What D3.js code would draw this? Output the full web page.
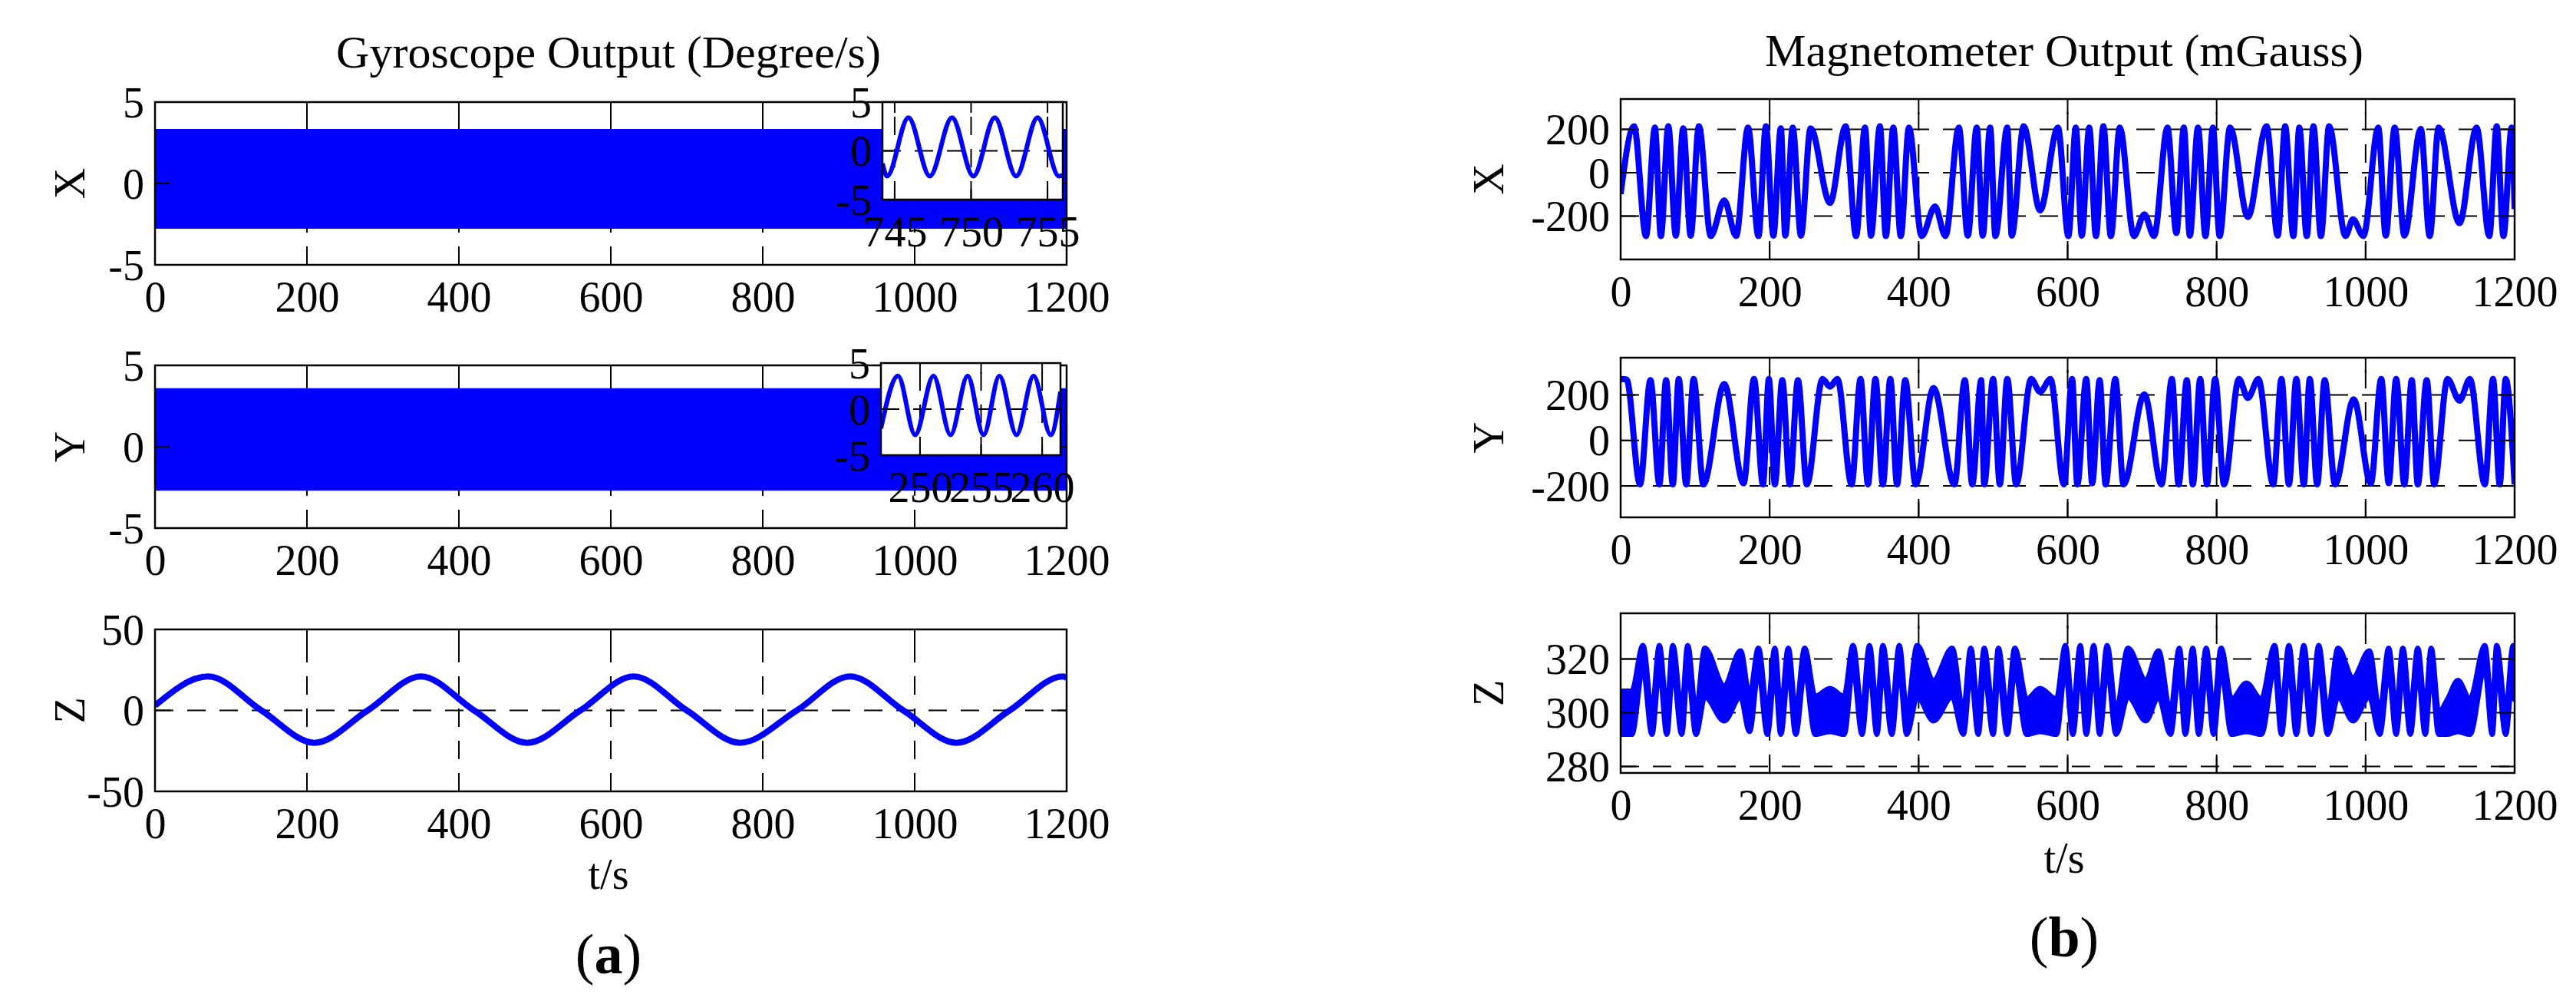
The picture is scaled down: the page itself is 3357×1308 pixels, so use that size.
<!DOCTYPE html>
<html><head><meta charset="utf-8">
<script src="https://cdn.jsdelivr.net/npm/d3@7"></script>
<style>body{margin:0;background:#fff}svg{display:block}text{font-family:"Liberation Serif","Times New Roman",serif;fill:#000}</style>
</head><body>
<script>
// ---------------- DATA ----------------
const xTicks = [0,200,400,600,800,1000,1200];
const gyroTicksXY = [-5,0,5];
const gyroTicksZ = [-50,0,50];
const magTicksXY = [-200,0,200];
const magTicksZ = [280,300,320];

// dense gyro X / Y bands (envelope of the fast oscillation)
const bandT = [0,1200];
const gyroXHi = [3.35,3.35], gyroXLo = [-2.78,-2.78];
const gyroYHi = [3.6,3.6],  gyroYLo = [-2.7,-2.7];

// inset X (zoom 745-755)
const insetXTicks = [745,750,755];
const insetXT = [744.2,744.5,745.9,747.3,748.75,750.15,751.55,752.95,754.35,755.75,756];
const insetXV = [-1.3,-2.6,3.4,-2.6,3.4,-2.6,3.4,-2.6,3.4,-2.6,-2.5];
// inset Y (zoom 250-260)
const insetYTicks = [250,255,260];
const insetYT = [246.8,248.2,249.6,251.1,252.5,253.9,255.2,256.5,257.9,259.3,260.7,261.5];
const insetYV = [-2.1,3.6,-2.8,3.6,-2.8,3.6,-2.8,3.6,-2.8,3.6,-2.8,1.9];

// gyro Z
const gyroZT = [0,70,140,210,280,350,420,490,560,630,700,770,845,915,985,1055,1125,1195,1200];
const gyroZV = [3,21,0,-20,0,21,0,-20,0,21,0,-20,0,21,0,-20,0,21,20];

// magnetometer X (extrema)
const magXT = [0,18,34,46,54,64,74,84,94,105,121,139,155,171,185,195,205,215,221,231,242,255,281,302,316,328,336,348,356,366,376,387,404,422,436,454,466,478,486,496,503,519,525,541,563,587,601,611,619,629,638,648,658,670,689,703,716,734,746,756,764,775,785,795,804,818,842,867,882,892,903,911,921,930,940,951,973,983,997,1017,1027,1039,1052,1074,1086,1098,1126,1149,1166,1176,1185,1196,1200];
const magXV = [-98,214,-292,208,-292,214,-290,205,-290,214,-292,-127,-292,208,-292,214,-290,205,-290,208,-290,205,-139,214,-292,208,-290,214,-292,208,-292,208,-292,-156,-292,208,-290,208,-290,208,-292,208,-290,214,-174,208,-292,208,-290,208,-292,214,-292,208,-292,-192,-292,208,-278,208,-290,208,-292,208,-292,208,-204,214,-290,214,-292,208,-292,214,-292,214,-292,-215,-292,208,-290,208,-290,202,-292,208,-233,208,-292,214,-292,208,-168];

// magnetometer Y (extrema)
const magYT = [0,8,26,40,52,61,70,78,88,98,111,139,165,179,191,199,207,217,227,238,250,271,281,291,310,322,332,342,352,362,371,382,396,420,448,462,472,484,488,500,509,519,531,551,563,577,595,606,613,625,633,643,651,664,675,703,726,740,749,760,768,778,787,798,810,830,842,856,876,887,897,907,917,925,935,945,959,984,1007,1021,1031,1041,1052,1062,1070,1082,1092,1110,1126,1140,1160,1171,1180,1188,1200];
const magYV = [270,268,-193,265,-193,265,-193,270,-193,270,-193,248,-188,270,-193,270,-193,265,-193,265,-193,270,237,270,-193,270,-193,270,-193,270,-193,265,-193,231,-193,265,-193,265,-193,270,-193,270,-193,270,214,270,-193,270,-193,270,-188,265,-193,270,-193,203,-193,270,-193,265,-193,270,-193,270,-193,270,187,270,-193,270,-193,270,-193,270,-193,265,-193,181,-188,270,-188,270,-193,265,-193,265,-193,270,175,270,-193,270,-193,270,-193];

// magnetometer Z (upper / lower envelope of the thick trace)
const magZT = [0,15,30,42,52,62,70,82,90,101,113,139,161,173,185,197,207,215,225,235,247,261,281,300,312,324,334,344,352,364,374,384,398,420,445,460,470,480,488,500,507,519,529,545,563,585,597,607,617,625,635,643,653,665,681,705,722,738,750,758,768,776,786,796,806,820,840,860,878,887,897,907,917,927,937,949,963,983,1005,1019,1031,1041,1050,1060,1070,1080,1088,1098,1110,1124,1140,1160,1170,1176,1188,1198,1200];
const magZHi = [308,308,325,300,325,300,325,300,325,300,324,310,323,306,324,300,324,300,324,300,324,306,309,306,325,300,325,300,325,300,325,300,325,312,324,300,324,300,324,300,324,300,324,305,309,305,325,300,325,300,325,300,325,300,324,312,323,300,324,300,324,300,324,300,324,305,311,305,325,300,325,300,325,300,325,300,324,313,323,300,324,300,324,300,324,300,324,300,305,312,305,325,300,325,300,325,318];
const magZLo = [292,292,317,292,317,292,317,292,317,292,306,297,306,293,316,292,316,292,316,292,316,292,293,292,317,292,317,292,317,292,317,292,306,297,306,292,316,292,316,292,316,292,316,292,293,292,317,292,317,292,317,292,317,292,306,297,306,292,316,292,316,292,316,292,316,292,293,292,317,292,317,292,317,292,317,292,306,297,306,292,316,292,316,292,316,292,316,292,292,293,292,317,292,317,292,317,305];

// ---------------- DRAW ----------------
const W=3357,H=1308;
const svg=d3.select("body").append("svg").attr("width",W).attr("height",H);
const FS=56, BLUE="#0000ff";
let clipId=0;
const fmt = d=>String(d);

function panel(o){
  const x=d3.scaleLinear().domain(o.xd).range([o.l,o.r]);
  const y=d3.scaleLinear().domain(o.yd).range([o.b,o.t]);
  const g=svg.append("g");
  if(o.bg) g.append("rect").attr("x",o.l).attr("y",o.t).attr("width",o.r-o.l).attr("height",o.b-o.t).attr("fill","#fff");
  const id="c"+(clipId++);
  g.append("clipPath").attr("id",id).append("rect").attr("x",o.l).attr("y",o.t).attr("width",o.r-o.l).attr("height",o.b-o.t);
  const grid=g.append("g").attr("stroke","#000").attr("stroke-width",2).attr("stroke-dasharray","24,18");
  o.xt.forEach(v=>{ if(v>o.xd[0]&&v<o.xd[1]) grid.append("line").attr("x1",x(v)).attr("x2",x(v)).attr("y1",o.b).attr("y2",o.t);});
  o.yt.forEach(v=>{ if(v>o.yd[0]&&v<o.yd[1]) grid.append("line").attr("y1",y(v)).attr("y2",y(v)).attr("x1",o.l).attr("x2",o.r);});
  const data=g.append("g").attr("clip-path",`url(#${id})`);
  o.draw(data,x,y);
  const tk=g.append("g").attr("stroke","#000").attr("stroke-width",2);
  const tl=o.tickLen||20;
  o.xt.forEach(v=>{ tk.append("line").attr("x1",x(v)).attr("x2",x(v)).attr("y1",o.b).attr("y2",o.b-tl);
                    tk.append("line").attr("x1",x(v)).attr("x2",x(v)).attr("y1",o.t).attr("y2",o.t+tl);});
  o.yt.forEach(v=>{ tk.append("line").attr("y1",y(v)).attr("y2",y(v)).attr("x1",o.l).attr("x2",o.l+tl);
                    tk.append("line").attr("y1",y(v)).attr("y2",y(v)).attr("x1",o.r).attr("x2",o.r-tl);});
  g.append("rect").attr("x",o.l).attr("y",o.t).attr("width",o.r-o.l).attr("height",o.b-o.t)
    .attr("fill","none").attr("stroke","#000").attr("stroke-width",2.5);
  const xa=d3.axisBottom(x).tickValues(o.xt).tickSize(0).tickPadding(0).tickFormat(fmt);
  const ax=g.append("g").attr("transform",`translate(0,${o.b+61})`).call(xa);
  ax.select(".domain").remove();
  ax.selectAll("text").attr("dy",0).attr("font-size",FS).attr("font-family","Liberation Serif").attr("fill","#000");
  const ya=d3.axisLeft(y).tickValues(o.yt).tickSize(0).tickPadding(0).tickFormat(fmt);
  const ay=g.append("g").attr("transform",`translate(${o.l-14},0)`).call(ya);
  ay.select(".domain").remove();
  ay.selectAll("text").attr("dy","0.34em").attr("font-size",FS).attr("font-family","Liberation Serif").attr("fill","#000");
  if(o.label) svg.append("text").attr("transform",`translate(${o.labelX},${(o.t+o.b)/2}) rotate(-90)`)
     .attr("text-anchor","middle").attr("dy","0.35em").attr("font-size",FS).text(o.label);
  return {x,y};
}
function band(T,Hi,Lo,sw){return (g,x,y)=>{
  const d=T.map((t,i)=>({t,h:Hi[i],l:Lo[i]}));
  g.append("path").datum(d).attr("fill",BLUE).attr("stroke",BLUE).attr("stroke-width",sw||0).attr("stroke-linejoin","round")
   .attr("d",d3.area().x(p=>x(p.t)).y0(p=>y(p.l)).y1(p=>y(p.h)).curve(d3.curveMonotoneX));
};}
function line(T,V,w){return (g,x,y)=>{
  const d=T.map((t,i)=>({t,v:V[i]}));
  g.append("path").datum(d).attr("fill","none").attr("stroke",BLUE).attr("stroke-width",w).attr("stroke-linejoin","round")
   .attr("d",d3.line().x(p=>x(p.t)).y(p=>y(p.v)).curve(d3.curveMonotoneX));
};}

const gl=202, gr=1390;
panel({l:gl,r:gr,t:133,b:345,xd:[0,1200],yd:[-5,5],xt:xTicks,yt:gyroTicksXY,draw:band(bandT,gyroXHi,gyroXLo),label:"X",labelX:90});
panel({l:gl,r:gr,t:476,b:688,xd:[0,1200],yd:[-5,5],xt:xTicks,yt:gyroTicksXY,draw:band(bandT,gyroYHi,gyroYLo),label:"Y",labelX:90});
panel({l:gl,r:gr,t:820,b:1031,xd:[0,1200],yd:[-50,50],xt:xTicks,yt:gyroTicksZ,draw:line(gyroZT,gyroZV,8),label:"Z",labelX:90});
panel({l:1150,r:1385,t:133,b:260,xd:[744.2,756],yd:[-5,5],xt:insetXTicks,yt:gyroTicksXY,draw:line(insetXT,insetXV,6),bg:true,tickLen:14});
panel({l:1148,r:1382,t:473,b:593,xd:[246.8,261.5],yd:[-5,5],xt:insetYTicks,yt:gyroTicksXY,draw:line(insetYT,insetYV,6),bg:true,tickLen:14});

const ml=2112, mr=3277;
panel({l:ml,r:mr,t:129,b:338,xd:[0,1200],yd:[-400,340],xt:xTicks,yt:magTicksXY,draw:line(magXT,magXV,8),label:"X",labelX:1939});
panel({l:ml,r:mr,t:466,b:674,xd:[0,1200],yd:[-338,364],xt:xTicks,yt:magTicksXY,draw:line(magYT,magYV,8),label:"Y",labelX:1939});
panel({l:ml,r:mr,t:799,b:1007,xd:[0,1200],yd:[277.6,337],xt:xTicks,yt:magTicksZ,draw:band(magZT,magZHi,magZLo,7),label:"Z",labelX:1939});

svg.append("text").attr("x",793).attr("y",88).attr("text-anchor","middle").attr("font-size",60).text("Gyroscope Output (Degree/s)");
svg.append("text").attr("x",2690).attr("y",86).attr("text-anchor","middle").attr("font-size",60).text("Magnetometer Output (mGauss)");
svg.append("text").attr("x",793).attr("y",1158).attr("text-anchor","middle").attr("font-size",FS).text("t/s");
svg.append("text").attr("x",2690).attr("y",1137).attr("text-anchor","middle").attr("font-size",FS).text("t/s");
function cap(x,y,ch){const t=svg.append("text").attr("x",x).attr("y",y).attr("text-anchor","middle").attr("font-size",74);
  t.append("tspan").text("(");t.append("tspan").attr("font-weight","bold").text(ch);t.append("tspan").text(")");}
cap(793,1268,"a"); cap(2690,1246,"b");
</script>
</body></html>
